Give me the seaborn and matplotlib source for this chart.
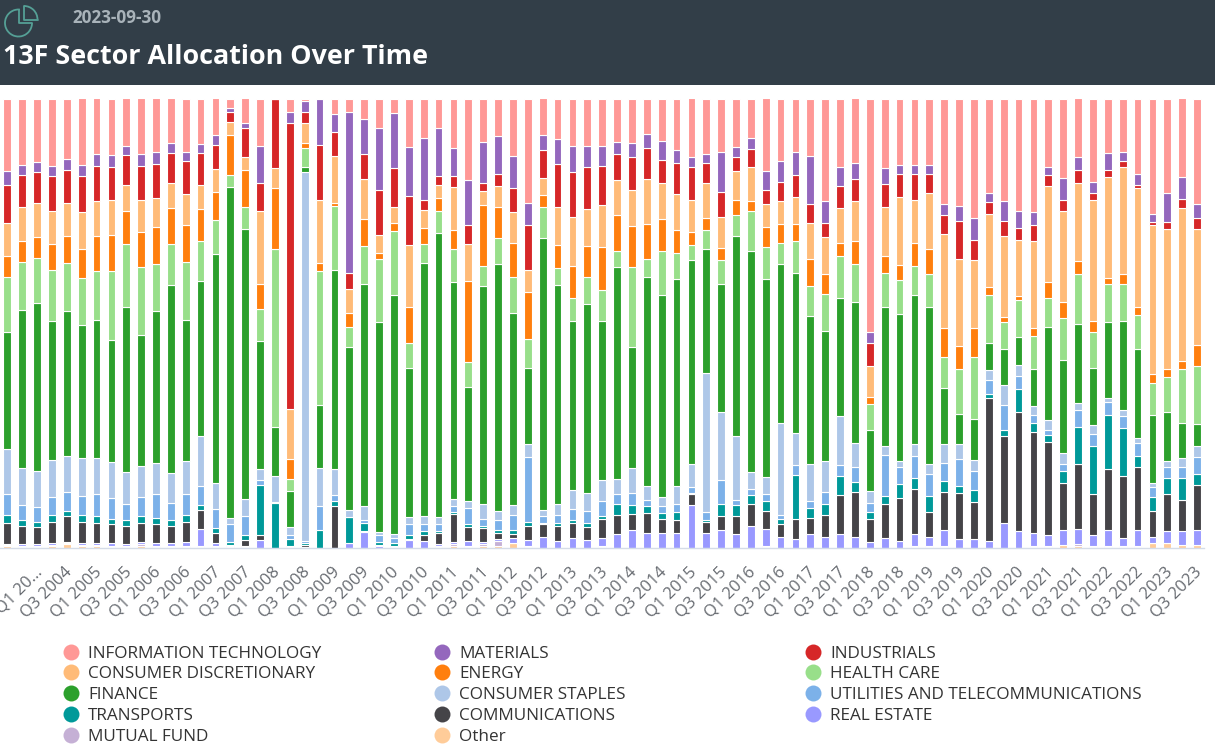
import pandas as pd
import numpy as np
import matplotlib.pyplot as plt
import seaborn as sns
from matplotlib.lines import Line2D
from matplotlib.patches import Arc, Rectangle
from matplotlib.transforms import ScaledTranslation

# Nama sektor dari atas ke bawah tumpukan
sectors = ['INFORMATION TECHNOLOGY', 'MATERIALS', 'INDUSTRIALS', 'CONSUMER DISCRETIONARY',
           'ENERGY', 'HEALTH CARE', 'FINANCE', 'CONSUMER STAPLES',
           'UTILITIES AND TELECOMMUNICATIONS', 'TRANSPORTS', 'COMMUNICATIONS',
           'REAL ESTATE', 'MUTUAL FUND', 'Other']
colors = ['#ff9896', '#9467bd', '#d62728', '#ffbb78', '#ff7f0e', '#98df8a', '#2ca02c',
          '#aec7e8', '#7cb1e9', '#009999', '#454448', '#9999ff', '#c5b0d5', '#ffcc99']

quarters = ['Q3 2003', 'Q4 2003']
for year in range(2004, 2023):
    quarters += [f'Q{q} {year}' for q in (1, 2, 3, 4)]
quarters += ['Q1 2023', 'Q2 2023', 'Q3 2023']

# Nilai (satuan relatif, dinormalisasi menjadi 100% per batang)
info_tech = [217,200,190,201,182,198,165,168,143,165,161,132,159,135,110,30,72,142,0,40,7,
             0,47,40,60,88,43,145,117,87,147,243,130,113,172,312,110,121,142,142,142,
             130,133,105,126,155,176,167,159,146,117,216,188,159,172,308,205,192,700,208,200,
             200,200,317,321,358,284,308,337,341,205,238,176,250,163,159,226,345,284,234,317]
materials = [42,30,31,32,31,35,36,37,25,36,36,31,29,28,30,10,17,112,0,32,33,
             138,54,483,107,185,166,147,188,146,86,135,123,112,95,66,45,76,79,63,59,
             37,42,42,57,38,29,26,120,29,34,59,62,71,145,65,58,50,33,47,25,
             26,26,33,45,66,25,58,50,38,25,66,37,33,50,29,33,25,86,66,41]
industrials = [114,94,91,103,99,107,107,100,92,103,102,91,99,95,72,32,86,83,208,858,32,
               165,70,48,73,137,118,148,30,25,32,57,25,37,73,135,83,128,135,126,119,
               78,98,94,70,94,98,61,77,43,54,41,58,65,56,42,64,66,69,70,71,
               78,58,57,116,61,36,45,37,49,33,33,41,21,21,17,8,10,21,29,33]
consumer_disc = [100,104,103,101,100,111,104,103,78,95,87,75,91,74,67,38,38,220,62,150,61,
                 190,142,72,122,52,48,185,52,39,130,112,42,63,93,67,50,115,146,110,125,
                 105,110,134,109,108,96,105,92,87,102,70,67,80,109,112,105,120,93,148,202,
                 128,168,281,259,203,219,244,169,260,286,273,232,363,305,322,359,445,421,459,348]
energy = [62,62,62,77,82,87,105,110,97,107,110,106,111,95,84,120,111,73,182,60,14,
          24,8,44,81,18,23,107,48,40,57,243,182,94,102,140,37,67,95,94,130,
          106,122,106,94,69,41,35,37,43,30,59,57,53,81,58,41,67,20,50,45,
          70,75,86,70,86,25,16,12,24,48,49,41,34,17,29,24,27,24,24,64]
health_care = [165,145,136,153,144,142,146,207,190,202,142,123,176,120,102,37,67,98,533,38,58,
               401,194,58,112,191,191,75,58,66,99,75,61,78,108,87,94,53,71,80,93,
               49,240,54,133,76,45,58,70,63,120,95,63,95,88,112,124,115,78,102,104,
               87,98,95,136,186,144,79,111,100,87,124,148,107,115,111,100,96,104,161,173]
finance = [350,472,504,416,433,398,415,365,494,394,456,565,422,465,688,993,811,382,147,107,16,
           189,595,490,667,629,719,448,759,852,651,342,652,740,575,230,816,655,505,567,477,
           637,362,626,606,621,610,371,384,601,663,595,477,480,444,390,355,422,185,417,440,
           446,470,168,90,123,82,110,83,111,281,280,238,172,226,268,267,204,148,106,66]
consumer_staples = [137,113,107,112,108,113,109,109,96,93,93,89,100,150,79,17,51,35,80,25,1107,
                    116,80,20,41,10,12,22,25,22,21,20,45,28,30,38,18,33,58,55,63,
                    45,75,42,28,55,70,417,206,191,50,50,277,97,112,92,148,73,34,26,18,
                    36,30,55,43,34,29,59,33,25,28,32,22,25,14,17,17,14,17,26,33]
utilities = [61,45,45,54,58,58,66,62,50,58,70,53,62,58,56,56,57,13,1,12,5,
             72,17,1,10,20,13,33,20,20,17,50,23,30,45,196,20,25,32,36,45,
             28,38,20,20,23,18,23,71,17,20,22,12,30,20,37,32,45,28,123,50,
             67,66,54,82,57,41,74,39,25,16,22,50,37,37,37,37,29,33,33,50]
transports = [25,17,16,21,16,21,20,16,16,20,20,16,20,15,14,9,13,152,135,20,7,
              52,16,78,24,10,9,10,13,6,5,8,6,7,12,10,4,8,10,12,8,
              34,25,20,17,26,4,6,37,33,26,30,16,131,30,33,58,29,21,25,44,
              32,49,33,20,37,13,20,69,28,22,37,112,145,164,144,33,42,49,66,33]
communications = [62,55,52,63,77,63,60,56,54,57,56,52,61,55,31,2,19,13,0,1,5,
                  0,124,1,4,1,2,3,17,34,85,42,41,18,12,44,38,46,45,38,57,
                  57,50,59,43,37,33,34,42,53,66,53,38,59,49,66,116,136,69,103,128,
                  136,75,116,140,111,429,260,358,301,279,140,193,123,182,186,190,78,111,94,136]
real_estate = [4,4,4,5,3,5,5,8,8,7,8,8,12,52,8,2,2,24,0,1,1,
               0,0,13,46,6,1,24,20,4,7,15,7,7,16,17,32,20,29,24,24,
               41,52,45,44,45,127,44,52,41,65,52,32,27,41,32,41,32,17,28,20,
               36,27,47,25,25,20,74,49,40,32,46,47,32,48,23,48,19,36,41,44]
mutual_fund = [4,3,3,5,3,5,5,3,2,5,3,3,2,2,3,1,1,0,0,1,0,
               0,0,0,0,0,1,0,0,3,5,2,5,15,0,2,0,0,0,0,2,
               0,0,0,0,0,0,0,0,0,0,2,0,0,0,0,0,0,0,0,0,
               2,2,2,0,0,0,0,0,2,2,0,5,2,2,2,2,0,0,0,0]
other = [4,3,3,4,11,4,4,3,2,5,3,3,3,3,3,2,2,0,0,2,1,
         0,0,0,0,0,2,0,0,3,5,3,5,5,14,3,0,0,0,0,3,
         0,0,0,0,0,0,0,0,0,0,3,0,0,0,0,0,0,0,0,0,
         3,3,3,0,0,0,0,0,3,3,7,5,3,3,3,3,13,13,8,9]

values = [info_tech, materials, industrials, consumer_disc, energy, health_care, finance,
          consumer_staples, utilities, transports, communications, real_estate, mutual_fund, other]

# Label sumbu x: setiap dua kuartal mulai indeks ke-2
tick_idx = list(range(2, 81, 2))
tick_labels = [quarters[i] for i in tick_idx]
tick_labels[0] = 'Q1 20…'

rows = []
for name, vals in zip(sectors, values):
    for q, v in zip(quarters, vals):
        rows.append({'quarter': q, 'sector': name, 'value': v})
df = pd.DataFrame(rows)

sns.set_theme(style='white')
plt.rcParams['font.family'] = ['Open Sans', 'DejaVu Sans']

W, H = 1215, 753
fig = plt.figure(figsize=(W / 100, H / 100), dpi=100)

# Kanvas piksel untuk header dan ikon
bg = fig.add_axes([0, 0, 1, 1], zorder=0)
bg.set_xlim(0, W)
bg.set_ylim(H, 0)
bg.axis('off')
bg.add_patch(Rectangle((0, 0), W, 85, color='#323e48', lw=0))
icon = '#55a096'
bg.add_patch(Arc((18.5, 23), 27, 27, theta1=0, theta2=276, color=icon, lw=1.3))
bg.add_patch(Arc((24, 19.5), 27, 27, theta1=270, theta2=360, color=icon, lw=1.3))
bg.plot([24, 24, 37.5], [6, 19.5, 19.5], color=icon, lw=1.3)
bg.plot([19, 19, 32], [9.5, 23, 23], color=icon, lw=1.3)
bg.text(72, 18, '2023-09-30', color='#a9b3ba', fontsize=12.3, fontweight='bold', va='center')
bg.text(3, 57, '13F Sector Allocation Over Time', color='white', fontsize=19.4,
        fontweight='bold', va='center')

# Batang bertumpuk 100%
ax = fig.add_axes([0, (H - 547.5) / H, 1204 / W, 449 / H], zorder=1)
ax.patch.set_alpha(0)
sns.histplot(data=df, x='quarter', hue='sector', weights='value', multiple='fill',
             hue_order=sectors, palette=colors, discrete=True, shrink=0.52,
             edgecolor='white', linewidth=0.8, alpha=1, legend=False, ax=ax)
ax.set_xlim(-0.49, 80.47)
ax.set_ylim(0, 1)
ax.set_xlabel('')
ax.set_ylabel('')
ax.set_yticks([])
ax.set_xticks(tick_idx)
ax.set_xticklabels(tick_labels, rotation=45, ha='right', rotation_mode='anchor',
                   fontsize=12, color='#666a70')
ax.tick_params(axis='x', length=0, pad=12)
sns.despine(ax=ax, left=True, top=True, right=True)
ax.spines['bottom'].set_color('#d5dce8')
ax.spines['bottom'].set_linewidth(1)
shift = ScaledTranslation(-3 / 100, 0, fig.dpi_scale_trans)
for lab in ax.get_xticklabels():
    lab.set_clip_on(False)
    lab.set_transform(lab.get_transform() + shift)

# Legenda tiga kolom, diisi per baris
columns = [(0, 3, 6, 9, 12), (1, 4, 7, 10, 13), (2, 5, 8, 11)]
order = ['INFORMATION TECHNOLOGY', 'MATERIALS', 'INDUSTRIALS', 'CONSUMER DISCRETIONARY',
         'ENERGY', 'HEALTH CARE', 'FINANCE', 'CONSUMER STAPLES',
         'UTILITIES AND TELECOMMUNICATIONS', 'TRANSPORTS', 'COMMUNICATIONS', 'REAL ESTATE',
         'MUTUAL FUND', 'Other']
col_of = dict(zip(sectors, colors))
for col, x0 in zip(columns, (60, 431, 802)):
    handles = [Line2D([], [], marker='o', linestyle='', markersize=11.5,
                      markerfacecolor=col_of[order[i]], markeredgecolor='none',
                      label=order[i]) for i in col]
    fig.legend(handles=handles, loc='upper left', bbox_to_anchor=(x0 / W, 1 - 645.5 / H),
               frameon=False, fontsize=12.3, labelcolor='#333333', borderpad=0,
               borderaxespad=0, handletextpad=0.35, handlelength=1.3, labelspacing=0.285)

fig.savefig('out.png', dpi=100)
